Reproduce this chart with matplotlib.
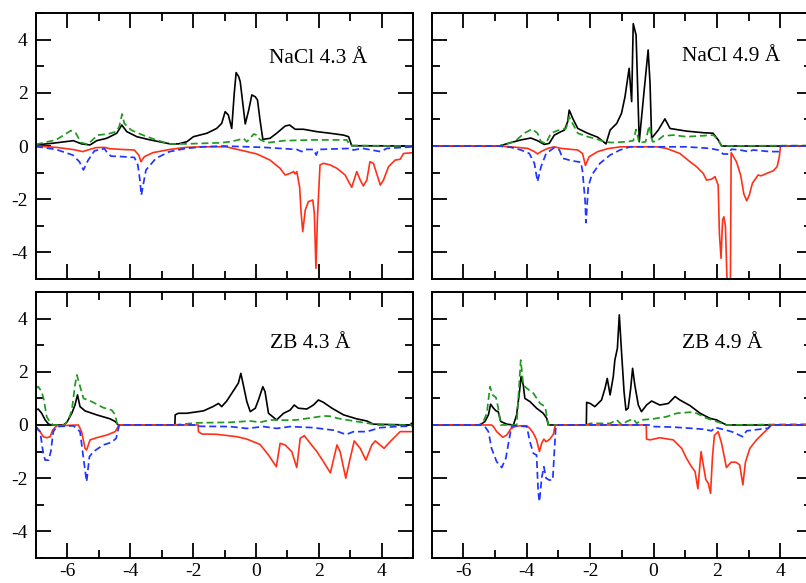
import matplotlib
matplotlib.use("Agg")
import matplotlib.pyplot as plt
from matplotlib.ticker import MultipleLocator

plt.rcParams['font.family'] = ['Liberation Serif', 'DejaVu Serif']
plt.rcParams['axes.unicode_minus'] = False

# ---- NaCl 4.3 A ----
nacl43_tot_up_x = [-7, -6.5, -5.81, -5.55, -5.28, -5.07, -4.75, -4.43, -4.27, -4.11, -3.79, -3.37, -2.73, -2.47, -2.2,
                   -1.99, -1.56, -1.25, -1.09, -0.98, -0.88, -0.77, -0.69, -0.63, -0.55, -0.5, -0.34, -0.23, -0.13,
                   -0.02, 0.05, 0.13, 0.22, 0.45, 0.66, 0.93, 1.07, 1.25, 1.51, 1.94, 2.36, 2.79, 2.95, 3.05, 5]
nacl43_tot_up_y = [0.04, 0.1, 0.2, 0.08, 0.04, 0.2, 0.29, 0.48, 0.79, 0.54, 0.35, 0.23, 0.08, 0.08, 0.16,
                   0.35, 0.48, 0.66, 0.85, 1.29, 1.17, 0.66, 1.98, 2.76, 2.61, 2.42, 0.83, 1.35, 1.92,
                   1.85, 1.73, 0.98, 0.25, 0.29, 0.48, 0.75, 0.79, 0.63, 0.63, 0.54, 0.48, 0.41, 0.35, 0.01, 0]
nacl43_p_up_x = [-7, -6.36, -5.89, -5.73, -5.57, -5.35, -5.2, -5.04, -4.72, -4.45, -4.35, -4.26, -4.19, -3.97, -3.6,
                 -3.18, -2.75, -2.22, -1.69, -1.14, -0.82, -0.56, -0.4, -0.29, -0.18, -0.07, 0.03, 0.12, 0.35, 0.88,
                 1.83, 2.89, 3.0, 5]
nacl43_p_up_y = [0.06, 0.23, 0.58, 0.48, 0.13, 0.06, 0.23, 0.41, 0.45, 0.54, 0.73, 1.2, 0.85, 0.6, 0.41,
                 0.23, 0.08, 0.08, 0.1, 0.12, 0.16, 0.23, 0.29, 0.16, 0.3, 0.45, 0.41, 0.25, 0.12, 0.2,
                 0.23, 0.23, 0.02, 0]
nacl43_p_dn_x = [-7, -6.36, -5.83, -5.62, -5.49, -5.35, -5.14, -4.82, -4.72, -4.61, -4.24, -3.87, -3.76, -3.69,
                 -3.65, -3.5, -3.18, -2.75, -2.22, -1.69, -1.05, 0.24, 1.3, 1.46, 1.56, 1.83, 1.92, 1.99, 3.0, 3.1,
                 3.4, 3.96, 4.17, 5]
nacl43_p_dn_y = [-0.02, -0.13, -0.34, -0.59, -0.9, -0.55, -0.18, -0.1, -0.28, -0.38, -0.4, -0.43, -0.71, -1.3,
                 -1.85, -0.9, -0.46, -0.21, -0.09, -0.03, 0, -0.05, -0.13, -0.21, -0.13, -0.13, -0.34, -0.13, -0.09,
                 -0.15, -0.09, -0.21, -0.09, -0.03]
nacl43_tot_dn_x = [-7, -6.36, -5.83, -5.51, -5.35, -5.09, -4.82, -4.66, -4.24, -3.87, -3.73, -3.66, -3.55, -3.28,
                   -2.75, -2.22, -1.69, -0.95, -0.29, 0.03, 0.45, 0.77, 0.93, 1.09, 1.2, 1.25, 1.3, 1.39, 1.44,
                   1.49, 1.57, 1.67, 1.81, 1.86, 1.91, 1.96, 2.04, 2.15, 2.36, 2.58, 2.84, 2.95, 3.05, 3.21, 3.32,
                   3.42, 3.53, 3.63, 3.74, 3.96, 4.06, 4.22, 4.43, 4.59, 4.7, 5]
nacl43_tot_dn_y = [0, -0.05, -0.13, -0.21, -0.15, -0.06, -0.05, -0.1, -0.13, -0.15, -0.34, -0.59, -0.4, -0.25,
                   -0.13, -0.05, -0.03, -0.03, -0.21, -0.3, -0.53, -0.84, -1.09, -1.03, -0.96, -1.05, -0.96, -1.53,
                   -2.53, -3.22, -2.41, -2.09, -2.03, -2.53, -4.6, -2.66, -0.71, -0.65, -0.71, -0.84, -1.09, -1.34,
                   -1.55, -0.96, -1.28, -1.5, -1.28, -0.59, -0.65, -1.47, -1.28, -0.78, -0.53, -0.5, -0.28, -0.25]

# ---- NaCl 4.9 A ----
nacl49_tot_up_x = [-7, -4.87, -4.5, -4.18, -3.87, -3.66, -3.45, -3.29, -3.13, -2.92, -2.81, -2.71, -2.66, -2.55,
                   -2.39, -2.08, -1.76, -1.55, -1.5, -1.37, -1.16, -1.01, -0.9, -0.77, -0.69, -0.64, -0.55, -0.45,
                   -0.32, -0.17, -0.11, -0.06, 0.15, 0.36, 0.52, 0.83, 1.04, 1.57, 1.88, 2.04, 2.15, 5]
nacl49_tot_up_y = [0, 0, 0.13, 0.23, 0.3, 0.2, 0.06, 0.1, 0.41, 0.54, 0.6, 0.91, 1.35, 1.04,
                   0.66, 0.48, 0.33, 0.13, 0.08, 0.6, 0.85, 1.23, 1.85, 2.92, 1.67, 4.6, 4.17, 0.16,
                   1.79, 3.61, 2.36, 0.29, 0.6, 1.02, 0.66, 0.6, 0.56, 0.5, 0.48, 0.23, 0, 0]
nacl49_p_up_x = [-7, -4.87, -4.39, -4.08, -3.83, -3.66, -3.55, -3.39, -3.24, -3.03, -2.76, -2.66, -2.58, -2.39,
                 -2.08, -1.76, -1.55, -1.34, -0.85, -0.64, -0.55, -0.45, -0.25, -0.14, -0.03, 0.1, 0.31, 0.62,
                 1.04, 1.89, 2.04, 2.15, 5]
nacl49_p_up_y = [0, 0, 0.16, 0.48, 0.64, 0.48, 0.16, 0.1, 0.48, 0.58, 0.66, 1.1, 0.91, 0.48,
                 0.35, 0.25, 0.16, 0.13, 0.16, 0.2, 0.62, 0.12, 0.16, 0.76, 0.16, 0.18, 0.38, 0.41,
                 0.35, 0.41, 0.23, 0, 0.02]
nacl49_p_dn_x = [-7, -4.87, -4.5, -4.18, -3.92, -3.76, -3.66, -3.55, -3.39, -3.13, -2.97, -2.87, -2.6, -2.29,
                 -2.24, -2.16, -2.13, -2.06, -1.95, -1.69, -1.37, -1.06, -0.74, 1.04, 1.78, 2.04, 2.2, 2.36, 2.46,
                 2.73, 2.99, 3.15, 3.67, 3.94, 4.01, 5]
nacl49_p_dn_y = [0, 0, -0.05, -0.15, -0.28, -0.65, -1.34, -0.78, -0.28, -0.06, -0.15, -0.46, -0.55, -0.61,
                 -0.96, -2.03, -2.88, -1.53, -1.09, -0.65, -0.34, -0.15, -0.03, -0.03, -0.09, -0.15, -0.3, -0.3,
                 -0.12, -0.15, -0.21, -0.15, -0.21, -0.21, 0, 0]
nacl49_tot_dn_x = [-7, -4.87, -4.5, -3.97, -3.76, -3.66, -3.55, -3.34, -3.13, -2.92, -2.39, -2.24, -2.15, -2.03,
                   -1.76, -1.45, -1.03, 0.1, 0.41, 0.83, 1.15, 1.36, 1.57, 1.67, 1.83, 1.94, 2.04, 2.08, 2.13,
                   2.18, 2.22, 2.27, 2.33, 2.38, 2.42, 2.45, 2.62, 2.75, 2.85, 2.94, 3.02, 3.12, 3.3, 3.4, 3.57,
                   3.78, 3.9, 3.97, 4.01, 5]
nacl49_tot_dn_y = [0, 0, -0.03, -0.09, -0.21, -0.3, -0.21, -0.09, -0.03, -0.09, -0.15, -0.28, -0.73, -0.4,
                   -0.21, -0.1, -0.03, -0.03, -0.09, -0.28, -0.59, -0.78, -1.03, -1.28, -1.25, -1.15, -1.47, -3.3,
                   -4.22, -2.78, -2.66, -3.03, -5.5, -6.5, -6.5, -0.25, -0.6, -1.1, -1.8, -2.06, -1.85, -1.4, -1.09,
                   -1.12, -1.03, -0.93, -0.78, -0.4, 0, 0]

# ---- ZB 4.3 A ----
zb43_tot_up_x = [-7, -6.93, -6.82, -6.71, -6.6, -6.5, -6.13, -6.02, -5.86, -5.76, -5.68, -5.6, -5.44, -5.07,
                 -4.64, -4.48, -4.38, -2.58, -2.57, -2.47, -2.2, -1.67, -1.37, -1.19, -1.09, -0.93, -0.72, -0.56,
                 -0.48, -0.4, -0.29, -0.18, -0.02, 0.08, 0.22, 0.29, 0.4, 0.66, 0.88, 1.09, 1.22, 1.35, 1.62,
                 1.83, 1.99, 2.15, 2.42, 2.79, 3.21, 3.53, 3.74, 4.9, 5]
zb43_tot_up_y = [0.56, 0.6, 0.44, 0.19, 0.03, 0, 0, 0.1, 0.44, 0.75, 1.13, 0.69, 0.53, 0.38,
                 0.23, 0.13, 0, 0, 0.38, 0.44, 0.44, 0.53, 0.69, 0.81, 0.69, 0.9, 1.28, 1.57,
                 1.94, 1.5, 0.88, 0.5, 0.63, 0.94, 1.44, 1.25, 0.44, 0.19, 0.44, 0.56, 0.75, 0.63, 0.6,
                 0.75, 0.94, 0.85, 0.63, 0.38, 0.23, 0.15, 0.03, 0, 0.1]
zb43_p_up_x = [-7, -6.93, -6.82, -6.75, -6.66, -6.55, -6.45, -6.1, -5.97, -5.86, -5.76, -5.7, -5.61, -5.49,
               -5.23, -4.86, -4.59, -4.48, -4.41, -2.6, -1.88, -0.82, -0.18, 0.13, 0.45, 0.88, 1.3, 1.83, 2.15,
               2.35, 2.68, 3.21, 3.64, 3.8, 5]
zb43_p_up_y = [1.38, 1.44, 1.25, 0.94, 0.31, 0.09, 0, 0, 0.19, 0.56, 1.5, 1.88, 1.5, 1.0,
               0.88, 0.65, 0.56, 0.38, 0, 0, 0.08, 0.1, 0.15, 0.1, 0.19, 0.18, 0.19, 0.28, 0.34,
               0.33, 0.23, 0.13, 0.05, 0, 0]
zb43_p_dn_x = [-7, -6.87, -6.77, -6.71, -6.6, -6.53, -6.45, -6.34, -5.81, -5.6, -5.49, -5.39, -5.3, -5.17,
               -4.86, -4.59, -4.45, -4.35, -1.88, -1.8, -0.82, -0.29, 0.24, 0.66, 1.09, 1.83, 2.15, 2.5, 2.87,
               3.11, 3.53, 3.96, 4.49, 5]
zb43_p_dn_y = [-0.06, -0.25, -1.07, -1.32, -1.32, -1.0, -0.25, -0.06, -0.03, -0.25, -1.25, -2.13, -1.19, -1.0,
               -0.75, -0.65, -0.5, 0, 0, -0.05, -0.06, -0.13, -0.06, -0.13, -0.06, -0.1, -0.15, -0.2, -0.36,
               -0.25, -0.25, -0.1, -0.06, -0.04]
zb43_tot_dn_x = [-7, -6.87, -6.77, -6.66, -6.55, -6.47, -6.34, -5.65, -5.55, -5.44, -5.39, -5.28, -5.07, -4.75,
                 -4.48, -4.36, -1.84, -1.83, -1.72, -1.25, -0.61, -0.29, 0.13, 0.4, 0.65, 0.77, 0.93, 1.14, 1.3,
                 1.41, 1.54, 1.73, 1.94, 2.15, 2.37, 2.58, 2.68, 2.86, 3.0, 3.13, 3.32, 3.5, 3.69, 3.8, 4.08,
                 4.22, 4.38, 4.59, 5]
zb43_tot_dn_y = [-0.13, -0.25, -0.44, -0.48, -0.44, -0.19, -0.03, 0, -0.25, -0.88, -0.94, -0.56, -0.48, -0.38,
                 -0.25, 0, 0, -0.25, -0.34, -0.35, -0.44, -0.53, -0.73, -1.13, -1.57, -0.69, -0.75, -1.0, -1.6,
                 -0.5, -0.4, -0.69, -1.0, -1.38, -1.8, -0.75, -1.0, -2.0, -1.25, -0.6, -0.88, -1.32, -0.75, -0.6,
                 -0.88, -0.69, -0.5, -0.25, -0.25]

# ---- ZB 4.9 A ----
zb49_tot_up_x = [-7, -5.48, -5.32, -5.21, -5.14, -5.05, -4.97, -4.9, -4.82, -4.63, -4.42, -4.32, -4.23, -4.18,
                 -4.11, -4.06, -3.9, -3.69, -3.48, -3.37, -3.32, -2.12, -2.11, -2.0, -1.85, -1.64, -1.53, -1.46,
                 -1.37, -1.27, -1.22, -1.14, -1.08, -1.01, -0.93, -0.87, -0.8, -0.72, -0.66, -0.59, -0.48, -0.38,
                 -0.22, -0.06, 0.2, 0.47, 0.68, 0.83, 1.15, 1.47, 1.78, 1.99, 2.2, 2.31, 5]
zb49_tot_up_y = [0, 0, 0.13, 0.38, 0.78, 0.63, 0.53, 0.5, 0.13, 0.03, 0, 0.38, 1.25, 1.82,
                 1.5, 1.0, 0.88, 0.63, 0.44, 0.25, 0, 0, 0.85, 0.81, 0.69, 0.94, 1.38, 1.75,
                 1.13, 1.82, 2.44, 2.88, 4.14, 2.76, 1.25, 0.56, 0.63, 1.38, 2.13, 1.5, 0.75, 0.5,
                 0.75, 0.9, 0.75, 0.81, 1.07, 0.94, 0.73, 0.44, 0.25, 0.19, 0.06, 0, 0]
zb49_p_up_x = [-7, -5.5, -5.37, -5.26, -5.16, -5.08, -4.97, -4.9, -4.82, -4.32, -4.26, -4.19, -4.11, -4.0,
               -3.79, -3.58, -3.42, -3.32, -2.11, -2.0, -1.37, -1.16, -1.0, -0.85, -0.64, -0.53, -0.38, -0.01,
               0.41, 0.73, 1.15, 1.36, 1.68, 1.99, 2.31, 5]
zb49_p_up_y = [0, 0, 0.13, 0.44, 1.44, 1.13, 1.03, 0.63, 0, 0, 1.13, 2.44, 1.5, 1.38,
               1.19, 0.81, 0.69, 0, 0, 0.06, 0.06, 0.19, 0.0, 0.13, 0.23, 0.06, 0.19, 0.23,
               0.31, 0.44, 0.48, 0.44, 0.25, 0.13, 0, 0.03]
zb49_p_dn_x = [-7, -5.45, -5.32, -5.21, -5.11, -4.95, -4.79, -4.66, -4.55, -4.48, -4.42, -4.0, -3.9, -3.79,
               -3.69, -3.64, -3.6, -3.53, -3.46, -3.39, -3.29, -3.18, -3.13, -3.08, -0.15, -0.01, 0.62, 1.25,
               1.57, 1.83, 1.94, 2.31, 2.51, 2.81, 2.94, 3.36, 3.62, 3.7, 5]
zb49_p_dn_y = [0, 0, -0.06, -0.25, -0.88, -1.38, -1.6, -1.25, -0.5, -0.06, -0.03, -0.06, -0.63, -1.07,
               -1.13, -2.51, -2.88, -2.0, -1.57, -2.0, -2.07, -2.07, -1.0, 0, 0, -0.06, -0.08, -0.13,
               -0.16, -0.22, -0.09, -0.2, -0.27, -0.44, -0.22, -0.16, -0.12, 0, 0]
zb49_tot_dn_x = [-7, -5.11, -5.05, -4.95, -4.76, -4.63, -4.51, -4.37, -4.21, -4.0, -3.9, -3.79, -3.69, -3.6,
                 -3.53, -3.46, -3.39, -3.27, -3.16, -3.11, -3.08, -0.23, -0.22, -0.11, 0.2, 0.62, 0.89, 1.04,
                 1.2, 1.31, 1.4, 1.5, 1.57, 1.65, 1.73, 1.8, 1.86, 1.92, 2.04, 2.15, 2.3, 2.45, 2.6, 2.72,
                 2.82, 2.9, 3.04, 3.25, 3.46, 3.62, 3.73, 5]
zb49_tot_dn_y = [0, 0, -0.06, -0.25, -0.46, -0.38, -0.15, -0.06, -0.03, -0.03, -0.13, -0.31, -0.56, -1.0,
                 -0.69, -0.53, -0.63, -0.53, -0.35, -0.06, 0, 0, -0.53, -0.56, -0.48, -0.56, -0.88, -1.25,
                 -1.57, -1.75, -2.4, -1.0, -1.5, -2.05, -2.2, -2.57, -1.2, -0.4, -0.25, -0.7, -1.6, -1.4, -1.4,
                 -1.5, -2.25, -1.4, -0.88, -0.56, -0.31, -0.13, 0, 0]

panel_labels = ["NaCl 4.3 Å", "NaCl 4.9 Å", "ZB 4.3 Å", "ZB 4.9 Å"]
panel_data = [
    (nacl43_tot_up_x, nacl43_tot_up_y, nacl43_p_up_x, nacl43_p_up_y,
     nacl43_tot_dn_x, nacl43_tot_dn_y, nacl43_p_dn_x, nacl43_p_dn_y),
    (nacl49_tot_up_x, nacl49_tot_up_y, nacl49_p_up_x, nacl49_p_up_y,
     nacl49_tot_dn_x, nacl49_tot_dn_y, nacl49_p_dn_x, nacl49_p_dn_y),
    (zb43_tot_up_x, zb43_tot_up_y, zb43_p_up_x, zb43_p_up_y,
     zb43_tot_dn_x, zb43_tot_dn_y, zb43_p_dn_x, zb43_p_dn_y),
    (zb49_tot_up_x, zb49_tot_up_y, zb49_p_up_x, zb49_p_up_y,
     zb49_tot_dn_x, zb49_tot_dn_y, zb49_p_dn_x, zb49_p_dn_y),
]

# axes boxes in figure fractions [left, bottom, width, height]
boxes = [[0.0447, 0.5214, 0.4677, 0.4563],
         [0.5356, 0.5214, 0.4718, 0.4563],
         [0.0447, 0.0429, 0.4677, 0.4563],
         [0.5356, 0.0429, 0.4718, 0.4563]]
label_pos = [(0.618, 0.83), (0.658, 0.835), (0.62, 0.805), (0.658, 0.805)]

fig = plt.figure(figsize=(8.06, 5.83), dpi=100)
dash = (0, (4, 2.2))
for i, (box, d) in enumerate(zip(boxes, panel_data)):
    ax = fig.add_axes(box)
    bx, by, gx, gy, rx, ry, ux, uy = d
    ax.plot(bx, by, c="k", lw=1.2)
    ax.plot(gx, gy, c="#1f9a1f", lw=1.25, ls=dash)
    ax.plot(rx, ry, c="#ff3018", lw=1.2)
    ax.plot(ux, uy, c="#2035ff", lw=1.25, ls=dash)
    ax.set_xlim(-7, 5)
    ax.set_ylim(-5, 5)
    ax.xaxis.set_major_locator(MultipleLocator(2))
    ax.xaxis.set_minor_locator(MultipleLocator(1))
    ax.yaxis.set_major_locator(MultipleLocator(2))
    ax.yaxis.set_minor_locator(MultipleLocator(1))
    ax.tick_params(which="both", direction="in", top=True, right=True, width=1.3, labelsize=14)
    ax.tick_params(axis="y", pad=6)
    ax.tick_params(axis="x", pad=3.5)
    ax.tick_params(which="major", length=11)
    ax.tick_params(which="minor", length=5.5)
    for s in ax.spines.values():
        s.set_linewidth(1.4)
    if i < 2:
        ax.tick_params(labelbottom=False)
    if i % 2 == 1:
        ax.tick_params(labelleft=False)
    ax.text(label_pos[i][0], label_pos[i][1], panel_labels[i], transform=ax.transAxes,
            fontsize=15.5, ha="left", va="center")

fig.savefig("out.png", dpi=100)
